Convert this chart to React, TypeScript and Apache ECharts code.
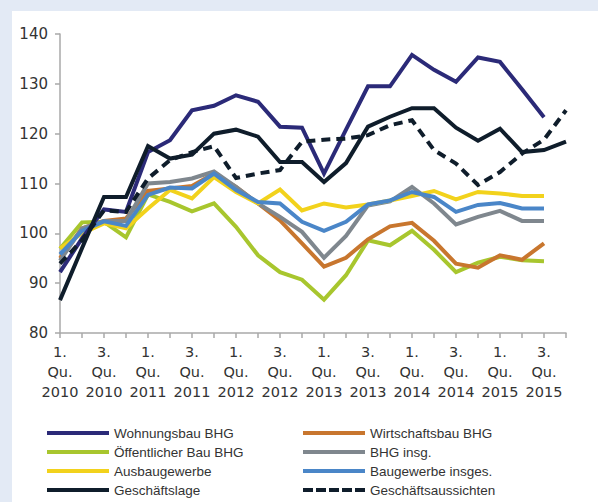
import React, { useEffect, useRef } from "react";
import * as echarts from "echarts";

const categories = [
  "1. Qu. 2010", "2. Qu. 2010", "3. Qu. 2010", "4. Qu. 2010",
  "1. Qu. 2011", "2. Qu. 2011", "3. Qu. 2011", "4. Qu. 2011",
  "1. Qu. 2012", "2. Qu. 2012", "3. Qu. 2012", "4. Qu. 2012",
  "1. Qu. 2013", "2. Qu. 2013", "3. Qu. 2013", "4. Qu. 2013",
  "1. Qu. 2014", "2. Qu. 2014", "3. Qu. 2014", "4. Qu. 2014",
  "1. Qu. 2015", "2. Qu. 2015", "3. Qu. 2015", "4. Qu. 2015",
];

const wohnungsbau = [92.2, 99, 104.8, 104.3, 116.3, 118.7, 124.7, 125.6, 127.7, 126.4, 121.4, 121.2, 112.0, 120.8, 129.5, 129.5, 135.8, 132.8, 130.4, 135.3, 134.4, 128.9, 123.3];
const wirtschaftsbau = [95, 101, 102.5, 103, 108.5, 109, 109.5, 112, 109.3, 106, 102.6, 98, 93.3, 95.1, 98.8, 101.4, 102.1, 98.5, 93.9, 93.1, 95.6, 94.7, 98.0];
const oeffentlicherBau = [96.9, 102.2, 102.3, 99.2, 107.8, 106.3, 104.4, 106.0, 101.3, 95.6, 92.2, 90.7, 86.7, 91.6, 98.6, 97.6, 100.5, 96.7, 92.2, 94.1, 95.3, 94.6, 94.4];
const bhgInsg = [94.5, 101, 102.5, 102.5, 110, 110.3, 111, 112.4, 109.3, 106, 103.3, 100.3, 95.1, 99.5, 105.6, 106.4, 109.3, 106.0, 101.8, 103.3, 104.5, 102.5, 102.5];
const ausbaugewerbe = [97, 100, 102, 101, 105, 108.7, 107, 111.3, 108.3, 106, 108.8, 104.6, 106, 105.2, 105.8, 106.6, 107.5, 108.5, 106.8, 108.3, 108, 107.5, 107.5];
const baugewerbe = [95.8, 100.5, 102.4, 101.5, 107.7, 109.2, 109, 112, 108.7, 106.3, 106, 102.3, 100.5, 102.3, 105.8, 106.6, 108.3, 107.3, 104.3, 105.7, 106.1, 105, 105];
const geschaeftslage = [86.6, 97, 107.3, 107.3, 117.5, 115, 115.8, 120, 120.8, 119.4, 114.3, 114.3, 110.3, 114.1, 121.4, 123.4, 125.1, 125.1, 121.2, 118.6, 121, 116.3, 116.7, 118.4];
const geschaeftsaussichten = [93.9, 98.6, 104.6, 104.3, 111, 114.7, 116.3, 117.5, 111.1, 112, 112.7, 118.4, 118.8, 119.0, 119.7, 121.7, 122.7, 116.7, 114.0, 109.7, 112.3, 116.0, 118.8, 124.7];

const C_NAVY = "#2b2a78";
const C_ORANGE = "#c8762e";
const C_GREEN = "#a8c62e";
const C_GRAY = "#7f878e";
const C_YELLOW = "#f2d21c";
const C_BLUE = "#4a86c8";
const C_BLACK = "#0f1d2b";

const SOLID_ICON = "path://M0 0h62v4h-62z";
const DASH_ICON = "path://M0 0h10v4h-10zM13 0h10v4h-10zM26 0h10v4h-10zM39 0h10v4h-10zM52 0h10v4h-10z";

export default function App() {
  const ref = useRef<HTMLDivElement>(null);
  useEffect(() => {
    if (!ref.current) return;
    const chart = echarts.init(ref.current, undefined, { renderer: "svg" });
    const font = "DejaVu Sans";
    const mk = (name: string, data: number[], color: string, dashed = false) => ({
      name,
      type: "line",
      data,
      symbol: "none",
      showSymbol: false,
      lineStyle: { color, width: 4, type: dashed ? [9, 6] : "solid", cap: "butt", join: "miter" },
      itemStyle: { color },
    });
    const legendBase = {
      orient: "vertical",
      top: 426,
      padding: 0,
      itemWidth: 62,
      itemHeight: 4,
      itemGap: 5,
      textStyle: { fontFamily: "Liberation Sans", fontSize: 13.5, lineHeight: 14, color: "#333333" },
    };
    chart.setOption({
      animation: false,
      backgroundColor: "#e3eaf5",
      graphic: [
        {
          type: "rect",
          z: -100,
          silent: true,
          shape: { x: 12, y: 11, width: 586, height: 491 },
          style: { fill: "#ffffff" },
        },
      ],
      grid: { left: 60, top: 34, right: 32, bottom: 169, containLabel: false },
      xAxis: {
        type: "category",
        data: categories,
        boundaryGap: false,
        axisLine: { lineStyle: { color: "#a9a9a9", width: 1.5 } },
        axisTick: { show: true, interval: 0, length: 5, lineStyle: { color: "#a9a9a9", width: 1.5 } },
        axisLabel: {
          interval: 1,
          margin: 9,
          color: "#333333",
          fontFamily: font,
          fontSize: 14.5,
          lineHeight: 20,
          formatter: (v: string) => v.split(" ").join("\n"),
        },
        splitLine: { show: false },
      },
      yAxis: {
        type: "value",
        min: 80,
        max: 140,
        interval: 10,
        axisLine: { show: true, lineStyle: { color: "#a9a9a9", width: 1.5 } },
        axisTick: { show: true, length: 5, lineStyle: { color: "#a9a9a9", width: 1.5 } },
        axisLabel: { margin: 12, color: "#333333", fontFamily: font, fontSize: 15 },
        splitLine: { show: false },
      },
      legend: [
        {
          ...legendBase,
          left: 47,
          data: [
            { name: "Wohnungsbau BHG", icon: SOLID_ICON },
            { name: "Öffentlicher Bau BHG", icon: SOLID_ICON },
            { name: "Ausbaugewerbe", icon: SOLID_ICON },
            { name: "Geschäftslage", icon: SOLID_ICON },
          ],
        },
        {
          ...legendBase,
          left: 303,
          data: [
            { name: "Wirtschaftsbau BHG", icon: SOLID_ICON },
            { name: "BHG insg.", icon: SOLID_ICON },
            { name: "Baugewerbe insges.", icon: SOLID_ICON },
            { name: "Geschäftsaussichten", icon: DASH_ICON },
          ],
        },
      ],
      series: [
        mk("Öffentlicher Bau BHG", oeffentlicherBau, C_GREEN),
        mk("Wirtschaftsbau BHG", wirtschaftsbau, C_ORANGE),
        mk("BHG insg.", bhgInsg, C_GRAY),
        mk("Ausbaugewerbe", ausbaugewerbe, C_YELLOW),
        mk("Baugewerbe insges.", baugewerbe, C_BLUE),
        mk("Wohnungsbau BHG", wohnungsbau, C_NAVY),
        mk("Geschäftsaussichten", geschaeftsaussichten, C_BLACK, true),
        mk("Geschäftslage", geschaeftslage, C_BLACK),
      ],
    });
    return () => chart.dispose();
  }, []);
  return (
    <div
      ref={ref}
      style={{ position: "absolute", left: 0, top: 0, width: 598, height: 502 }}
    />
  );
}
